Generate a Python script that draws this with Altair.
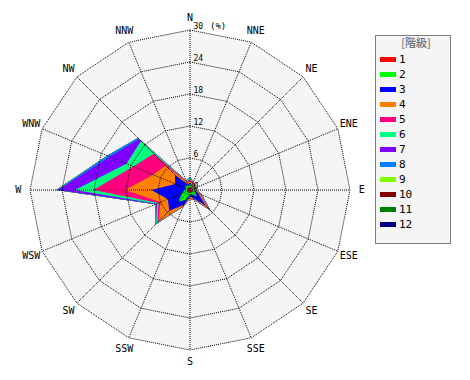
import math
import altair as alt
import pandas as pd

# ---------------- data ----------------
directions = ["N", "NNE", "NE", "ENE", "E", "ESE", "SE", "SSE",
              "S", "SSW", "SW", "WSW", "W", "WNW", "NW", "NNW"]
classes = [str(i) for i in range(1, 13)]
colors = ["#ff0000", "#00ff00", "#0000ff", "#ff8000", "#ff0080", "#00ff80",
          "#8000ff", "#0080ff", "#80ff00", "#800000", "#008000", "#000080"]

# frequency (%) of each class per direction (N, NNE, ... NNW)
freq_1 = [0.5, 0.5, 0.4, 0.3, 0.4, 0.5, 0.6, 0.4, 0.4, 0.5, 0.6, 0.6, 0.5, 0.5, 0.5, 0.5]
freq_2 = [0.6, 0.4, 0.3, 0.3, 0.4, 0.6, 1.2, 0.5, 0.5, 1.5, 2.5, 1.0, 0.5, 0.4, 0.7, 0.4]
freq_3 = [0.2, 0.1, 0.1, 0.1, 0.2, 0.5, 2.4, 0.7, 0.3, 1.0, 2.4, 2.9, 6.2, 2.1, 2.8, 0.3]
freq_4 = [0.3, 0.2, 0.2, 0.2, 0.2, 0.4, 0.7, 0.2, 0.3, 0.2, 2.8, 1.5, 5.0, 4.5, 2.5, 0.3]
freq_5 = [0.3, 0.4, 0.2, 0.1, 0.1, 0.2, 0.2, 0.1, 0.1, 0.1, 0.3, 0.4, 5.9, 4.0, 3.1, 0.2]
freq_6 = [0.4, 0.1, 0.1, 0.1, 0.1, 0.1, 0.1, 0.1, 0.1, 0.1, 0.4, 0.3, 3.5, 1.4, 3.4, 0.2]
freq_7 = [0.1, 0.0, 0.0, 0.0, 0.0, 0.1, 0.2, 0.0, 0.0, 0.0, 0.05, 0.2, 3.1, 3.4, 0.5, 0.05]
freq_8 = [0.0, 0.0, 0.0, 0.0, 0.0, 0.0, 0.1, 0.0, 0.0, 0.0, 0.05, 0.1, 0.3, 0.5, 0.3, 0.0]
freq_9 = [0.0, 0.0, 0.0, 0.0, 0.0, 0.0, 0.0, 0.0, 0.0, 0.0, 0.0, 0.0, 0.1, 0.0, 0.0, 0.0]
freq_10 = [0.0] * 16
freq_11 = [0.0] * 16
freq_12 = [0.0] * 16
freqs = [freq_1, freq_2, freq_3, freq_4, freq_5, freq_6,
         freq_7, freq_8, freq_9, freq_10, freq_11, freq_12]

rings = [6, 12, 18, 24, 30]
ring_labels = ["0", "6", "12", "18", "24", "30"]
ring_values = [0, 6, 12, 18, 24, 30]
R_MAX = 30
unit_label = "(%)"
legend_title = "[階級]"

# ---------------- layout ----------------
PW = 364                       # polar panel size
PX_PER_UNIT = 160 / R_MAX
D = (PW / 2) / PX_PER_UNIT
xs = alt.Scale(domain=[-D, D], nice=False, zero=False)
ys = alt.Scale(domain=[-D, D], nice=False, zero=False)
MONO = "DejaVu Sans Mono"

# long table: closed polygon (index 16 repeats index 0)
rows = []
for k, f in enumerate(freqs):
    for i in range(17):
        rows.append({"cls": k + 1, "idx": i, "freq": f[i % 16]})
wind = pd.DataFrame(rows)

base = (
    alt.Chart(wind)
    .transform_window(cum="sum(freq)", groupby=["idx"],
                      sort=[alt.SortField("cls")], frame=[None, 0])
    .transform_calculate(px="datum.cum*sin(datum.idx*PI/8)",
                         py="datum.cum*cos(datum.idx*PI/8)")
)

layers = []

# background disc (16-gon)
ring_rows = [{"ring": r, "idx": i} for r in rings for i in range(17)]
ring_df = pd.DataFrame(ring_rows)
ring_base = alt.Chart(ring_df).transform_calculate(
    px="datum.ring*sin(datum.idx*PI/8)", py="datum.ring*cos(datum.idx*PI/8)")

layers.append(
    ring_base.transform_filter(alt.datum.ring == R_MAX)
    .mark_line(fill="#f5f5f5", strokeWidth=0)
    .encode(x=alt.X("px:Q", scale=xs, axis=None),
            y=alt.Y("py:Q", scale=ys, axis=None),
            order="idx:Q")
)

# stacked polygons, outermost first
for k in range(12, 0, -1):
    layers.append(
        base.transform_filter(alt.datum.cls == k)
        .mark_line(fill=colors[k - 1], strokeWidth=0)
        .encode(x=alt.X("px:Q", scale=xs, axis=None),
                y=alt.Y("py:Q", scale=ys, axis=None),
                order="idx:Q")
    )

# grid rings
layers.append(
    ring_base.mark_line(stroke="black", strokeWidth=1, strokeDash=[1, 1])
    .encode(x=alt.X("px:Q", scale=xs, axis=None),
            y=alt.Y("py:Q", scale=ys, axis=None),
            detail="ring:N", order="idx:Q")
)

# spokes
dir_df = pd.DataFrame({"dir": directions, "idx": list(range(16))})
layers.append(
    alt.Chart(dir_df)
    .transform_calculate(x0="0", y0="0",
                         x1=f"{R_MAX}*sin(datum.idx*PI/8)",
                         y1=f"{R_MAX}*cos(datum.idx*PI/8)")
    .mark_rule(stroke="black", strokeWidth=1, strokeDash=[1, 1])
    .encode(x=alt.X("x0:Q", scale=xs, axis=None),
            y=alt.Y("y0:Q", scale=ys, axis=None),
            x2="x1:Q", y2="y1:Q")
)

# direction labels
layers.append(
    alt.Chart(dir_df)
    .transform_calculate(lx="32.2*sin(datum.idx*PI/8)",
                         ly="32.2*cos(datum.idx*PI/8)")
    .mark_text(font=MONO, fontSize=10, color="black",
               align="center", baseline="middle")
    .encode(x=alt.X("lx:Q", scale=xs, axis=None),
            y=alt.Y("ly:Q", scale=ys, axis=None),
            text="dir:N")
)

# ring labels
rl_df = pd.DataFrame({"v": ring_values, "t": ring_labels})
layers.append(
    alt.Chart(rl_df)
    .transform_calculate(x0="0")
    .mark_text(font=MONO, fontSize=8, color="black", align="left",
               baseline="alphabetic", dx=3.5, dy=-1.5)
    .encode(x=alt.X("x0:Q", scale=xs, axis=None),
            y=alt.Y("v:Q", scale=ys, axis=None),
            text="t:N")
)
layers.append(
    alt.Chart(pd.DataFrame({"v": [R_MAX], "t": [unit_label]}))
    .transform_calculate(x0="0")
    .mark_text(font=MONO, fontSize=9, color="black", align="left",
               baseline="alphabetic", dx=20, dy=-1.5)
    .encode(x=alt.X("x0:Q", scale=xs, axis=None),
            y=alt.Y("v:Q", scale=ys, axis=None),
            text="t:N")
)

polar = alt.layer(*layers).properties(width=PW, height=PW)

# ---------------- legend panel ----------------
leg_df = pd.DataFrame({"cls": classes})
ly = alt.Y("cls:N", scale=alt.Scale(type="point", domain=classes,
                                    range=[51.5, 216.5], padding=0), axis=None)
box = alt.Chart(pd.DataFrame({"a": [0]})).mark_rect(
    fill="#f5f5f5", stroke="black", strokeWidth=1, strokeDash=[1, 1]
).encode(x=alt.value(0.5), x2=alt.value(75.5), y=alt.value(27.5), y2=alt.value(235.5))
title = alt.Chart(pd.DataFrame({"t": [legend_title]})).mark_text(
    font="Noto Sans CJK JP", fontSize=11, color="#555555",
    align="center", baseline="middle"
).encode(x=alt.value(41), y=alt.value(35.5), text="t:N")
swatch = alt.Chart(leg_df).mark_rule(strokeWidth=5).encode(
    x=alt.value(5), x2=alt.value(21), y=ly,
    color=alt.Color("cls:N", scale=alt.Scale(domain=classes, range=colors), legend=None))
labels = alt.Chart(leg_df).mark_text(
    font=MONO, fontSize=11, color="black", align="left", baseline="middle"
).encode(x=alt.value(24), y=ly, text="cls:N")

legend = alt.layer(box, title, swatch, labels).properties(width=76, height=236)

chart = alt.hconcat(polar, legend, spacing=3, bounds="flush").properties(
    padding=0
).configure_view(stroke=None)

chart.save("out.html", embed_options={"renderer": "svg", "actions": False})
